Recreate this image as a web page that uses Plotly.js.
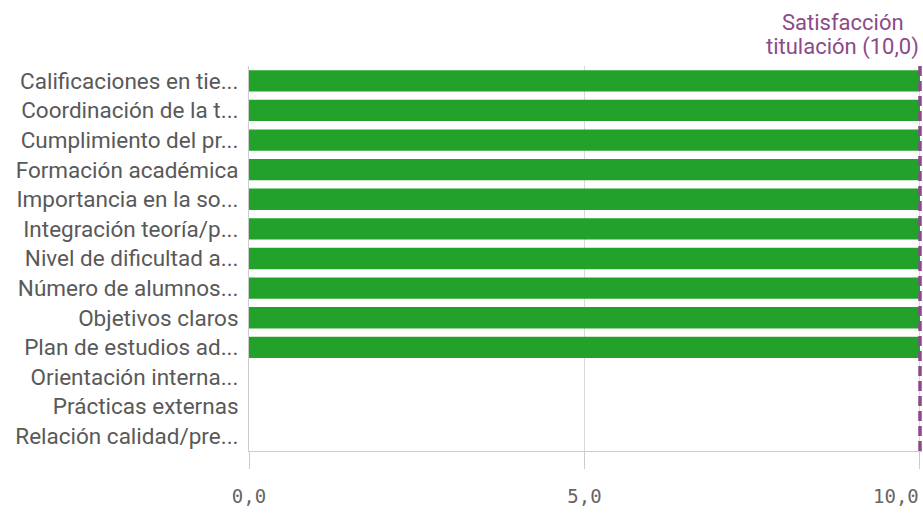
<!DOCTYPE html>
<html><head><meta charset="utf-8">
<script src="https://cdn.plot.ly/plotly-3.0.1.min.js"></script>
<style>html,body{margin:0;padding:0;background:#fff}#c{width:923px;height:513px}</style>
</head><body><div id="c"></div>
<script>
const categories = ["Calificaciones en tie...","Coordinación de la t...","Cumplimiento del pr...","Formación académica","Importancia en la so...","Integración teoría/p...","Nivel de dificultad a...","Número de alumnos...","Objetivos claros","Plan de estudios ad...","Orientación interna...","Prácticas externas","Relación calidad/pre..."];
const values = [10,10,10,10,10,10,10,10,10,10,null,null,null];
const refValue = 10;
const refLabelLines = ["Satisfacción", "titulación (10,0)"];
const xTicks = [0,5,10];
const xTickLabels = ["0,0","5,0","10,0"];

const purple = "#8b4a8b";
const tickFont = {family: "DejaVu Sans Mono", size: 19, color: "#666666"};
const lastIdx = xTicks.length - 1;
const shownText = xTickLabels.map((t, i) => i === lastIdx ? "" : t);

Plotly.newPlot("c", [{
  type: "bar", orientation: "h", x: values, y: categories,
  marker: {color: "#22a22a"}, hoverinfo: "none"
}], {
  width: 923, height: 513,
  margin: {l: 249, r: 1, t: 66, b: 62},
  paper_bgcolor: "#fff", plot_bgcolor: "#fff",
  bargap: 0.28, showlegend: false,
  xaxis: {range: [0, 10.03], tickvals: xTicks, ticktext: shownText,
    showgrid: true, gridcolor: "#d9d9d9", zeroline: false,
    showline: true, linecolor: "#cccccc", linewidth: 1,
    ticks: "outside", ticklen: 17, tickcolor: "#cccccc", ticklabelstandoff: 11,
    tickfont: tickFont, fixedrange: true},
  yaxis: {autorange: "reversed", showline: true, linecolor: "#cccccc", linewidth: 1,
    ticks: "", showgrid: false, ticklabelstandoff: 5,
    tickfont: {family: "Roboto", size: 22.5, color: "#595959"}, fixedrange: true},
  shapes: [{type: "line", xref: "x", yref: "paper", x0: refValue, x1: refValue, y0: 0, y1: 1,
    line: {color: purple, width: 3.5, dash: "10px,5px"}}],
  annotations: [
    {xref: "x", yref: "paper", x: refValue, y: 1, xanchor: "center", yanchor: "middle",
      yshift: 44, xshift: -77, showarrow: false, text: refLabelLines[0],
      font: {family: "Roboto", size: 22, color: purple}},
    {xref: "x", yref: "paper", x: refValue, y: 1, xanchor: "right", yanchor: "middle",
      yshift: 19, xshift: 1, showarrow: false, text: refLabelLines[1],
      font: {family: "Roboto", size: 22, color: purple}},
    {xref: "x", yref: "paper", x: xTicks[lastIdx], y: 0, xanchor: "right", yanchor: "middle",
      yshift: -45, xshift: 1, showarrow: false, text: xTickLabels[lastIdx], font: tickFont}
  ]
}, {displayModeBar: false, staticPlot: true});
</script></body></html>
